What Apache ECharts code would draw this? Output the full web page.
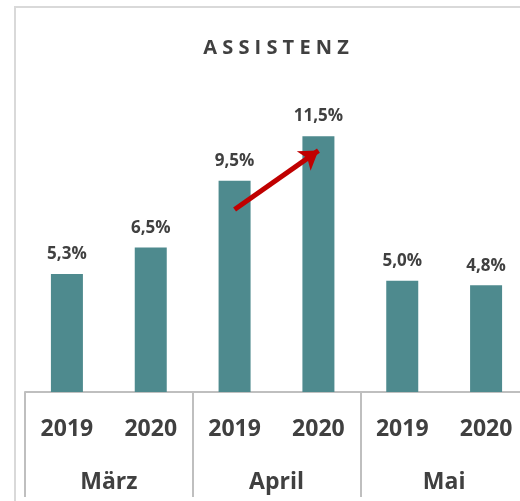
<!DOCTYPE html>
<html>
<head>
<meta charset="utf-8">
<script src="https://cdn.jsdelivr.net/npm/echarts@6/dist/echarts.min.js"></script>
<style>
  html, body { margin: 0; padding: 0; background: #fff; }
  #chart { width: 520px; height: 501px; }
</style>
</head>
<body>
<div id="chart"></div>
<script>
// data
var years = ['2019', '2020', '2019', '2020', '2019', '2020'];
var months = ['März', 'April', 'Mai'];
var values = [5.3, 6.5, 9.5, 11.5, 5.0, 4.8];
// arrow from April 2019 to April 2020 (category index, value)
var arrowFrom = [2, 8.2];
var arrowTo = [2.82, 10.85];

var font = '"Open Sans", "Noto Sans", sans-serif';
var textColor = '#404040';
var gridColor = '#bfbfbf';

var myChart = echarts.init(document.getElementById('chart'));
myChart.setOption({
  animation: false,
  title: {
    text: 'A S S I S T E N Z',
    left: 271,
    top: 33,
    textAlign: 'center',
    textStyle: {
      fontFamily: font,
      fontSize: 20,
      fontWeight: 'bold',
      color: textColor
    }
  },
  graphic: [
    {
      type: 'rect',
      silent: true,
      z: -1,
      shape: { x: 15, y: 7, width: 540, height: 540 },
      style: { fill: 'none', stroke: '#d9d9d9', lineWidth: 2 }
    }
  ],
  grid: {
    left: 25,
    right: -8,
    top: 125,
    bottom: 109,
    outerBoundsMode: 'none'
  },
  xAxis: [
    {
      type: 'category',
      position: 'bottom',
      data: years,
      axisLine: { lineStyle: { color: gridColor, width: 2 } },
      axisTick: {
        show: true,
        length: 105,
        interval: function (index) { return index % 2 === 0; },
        lineStyle: { color: gridColor, width: 2 }
      },
      axisLabel: {
        interval: 0,
        margin: 26,
        fontFamily: font,
        fontSize: 23,
        fontWeight: 'bold',
        color: textColor
      }
    },
    {
      type: 'category',
      position: 'bottom',
      data: months,
      axisLine: { show: false },
      axisTick: { show: false },
      axisLabel: {
        interval: 0,
        margin: 79,
        fontFamily: font,
        fontSize: 23,
        fontWeight: 'bold',
        color: textColor
      }
    }
  ],
  yAxis: {
    type: 'value',
    min: 0,
    max: 12,
    show: false,
    splitLine: { show: false }
  },
  series: [
    {
      type: 'bar',
      data: values,
      barWidth: 32,
      itemStyle: { color: '#4e8a8e' },
      label: {
        show: true,
        position: 'top',
        distance: 11,
        fontFamily: font,
        fontSize: 17,
        fontWeight: 'bold',
        color: textColor,
        formatter: function (p) {
          return p.value.toFixed(1).replace('.', ',') + '%';
        }
      },
      markLine: {
        silent: true,
        symbol: ['none', 'arrow'],
        symbolSize: [18, 18],
        label: { show: false },
        lineStyle: { color: '#c00000', width: 5, type: 'solid' },
        data: [[{ coord: arrowFrom }, { coord: arrowTo }]]
      }
    }
  ]
});
</script>
</body>
</html>
